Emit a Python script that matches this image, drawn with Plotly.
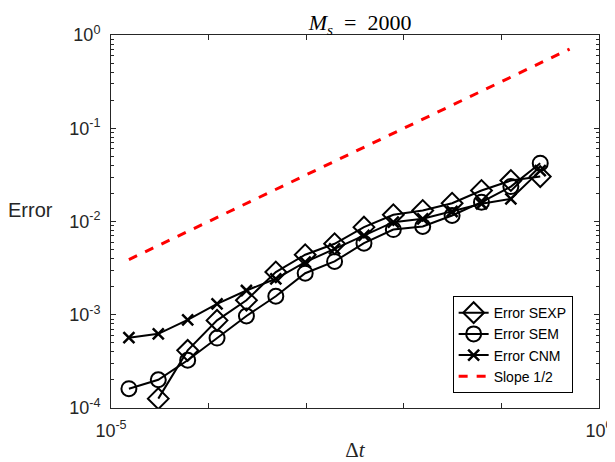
import plotly.graph_objects as go

# Time steps (dt = 2^-2 ... 2^-16)
dt = [0.25, 0.125, 0.0625, 0.03125, 0.015625, 0.0078125, 0.00390625,
      0.001953125, 0.0009765625, 0.00048828125, 0.000244140625,
      0.0001220703125, 6.103515625e-05, 3.0517578125e-05, 1.52587890625e-05]

# Errors (ordered from largest dt to smallest)
err_sexp = [3.03e-2, 2.75e-2, 2.15e-2, 1.57e-2, 1.31e-2, 1.18e-2, 8.7e-3,
            5.77e-3, 4.4e-3, 2.87e-3, 1.43e-3, 8.7e-4, 4.15e-4, 1.26e-4]
err_sem = [4.22e-2, 2.37e-2, 1.61e-2, 1.16e-2, 8.84e-3, 8.2e-3, 5.86e-3,
           3.73e-3, 2.79e-3, 1.58e-3, 9.7e-4, 5.62e-4, 3.25e-4, 2.01e-4, 1.61e-4]
err_cnm = [3.51e-2, 1.75e-2, 1.55e-2, 1.28e-2, 1.07e-2, 9.84e-3, 7.08e-3,
           5.1e-3, 3.66e-3, 2.43e-3, 1.82e-3, 1.31e-3, 8.83e-4, 6.25e-4, 5.68e-4]

# Reference slope-1/2 line endpoints
slope_x = [1.52587890625e-05, 0.5]
slope_y = [0.00390625, 0.7071]

x_ticks = [1e-5, 1e0]
x_ticktext = ["10<sup>-5</sup>", "10<sup>0</sup>"]
x_minor = [1e-4, 1e-3, 1e-2, 1e-1]
y_ticks = [1e-4, 1e-3, 1e-2, 1e-1, 1e0]
y_ticktext = ["10<sup>-4</sup>", "10<sup>-3</sup>", "10<sup>-2</sup>", "10<sup>-1</sup>", "10<sup>0</sup>"]

y_minor = [m * 10.0 ** e for e in range(-4, 0) for m in range(2, 10)]

fig = go.Figure()
fig.add_trace(go.Scatter(x=dt[:len(err_sexp)], y=err_sexp, mode="lines+markers", name="Error SEXP",
                         line=dict(color="black", width=2),
                         marker=dict(symbol="diamond-open", size=16, color="black", line=dict(width=2))))
fig.add_trace(go.Scatter(x=dt, y=err_sem, mode="lines+markers", name="Error SEM",
                         line=dict(color="black", width=2),
                         marker=dict(symbol="circle-open", size=15, color="black", line=dict(width=2))))
fig.add_trace(go.Scatter(x=dt, y=err_cnm, mode="lines+markers", name="Error CNM",
                         line=dict(color="black", width=2),
                         marker=dict(symbol="x-thin-open", size=11, color="black", line=dict(width=2.5))))
fig.add_trace(go.Scatter(x=slope_x, y=slope_y, mode="lines", name="Slope 1/2",
                         line=dict(color="red", width=3, dash="dash")))

axis_common = dict(type="log", showline=True, linecolor="#262626", linewidth=1, mirror="ticks",
                   ticks="inside", tickcolor="#262626", ticklen=5, showgrid=False, zeroline=False,
                   automargin=False,
                   tickfont=dict(family="Liberation Sans, Arial, sans-serif", size=18, color="#262626"))

# The page body has an 8px default margin; the figure is sized to fit the 615x462 window.
fig.update_layout(
    width=607, height=454,
    margin=dict(l=103, r=16, t=27, b=54),
    paper_bgcolor="white", plot_bgcolor="white",
    title=dict(text="<i>M</i><sub><i>s</i></sub>\u2002=\u20022000", x=0.580, xanchor="center",
               y=0.968, yanchor="middle",
               font=dict(family="Liberation Serif, Times New Roman, serif", size=22, color="black")),
    xaxis=dict(range=[-5, 0], tickmode="array", tickvals=x_ticks, ticktext=x_ticktext,
               ticklabelstandoff=6,
               minor=dict(tickmode="array", tickvals=x_minor, ticks="inside", ticklen=5, tickcolor="#262626"),
               title=dict(text="Δ<i>t</i>", standoff=4,
                          font=dict(family="Liberation Serif, Times New Roman, serif", size=21, color="#262626")),
               **axis_common),
    yaxis=dict(range=[-4, 0], tickmode="array", tickvals=y_ticks, ticktext=y_ticktext,
               ticklabelstandoff=6,
               minor=dict(tickmode="array", tickvals=y_minor, ticks="inside", ticklen=3, tickcolor="#262626"),
               **axis_common),
    legend=dict(x=0.946, y=0.04, xanchor="right", yanchor="bottom", bgcolor="white",
                bordercolor="black", borderwidth=1, itemwidth=30, tracegroupgap=0,
                font=dict(family="Liberation Sans, Arial, sans-serif", size=14, color="black")),
    annotations=[dict(text="Error", x=-0.165, xref="paper", xanchor="center", y=0.531, yref="paper",
                      yanchor="middle", showarrow=False,
                      font=dict(family="Liberation Sans, Arial, sans-serif", size=20, color="#262626"))],
)

fig.write_html("out.html")
